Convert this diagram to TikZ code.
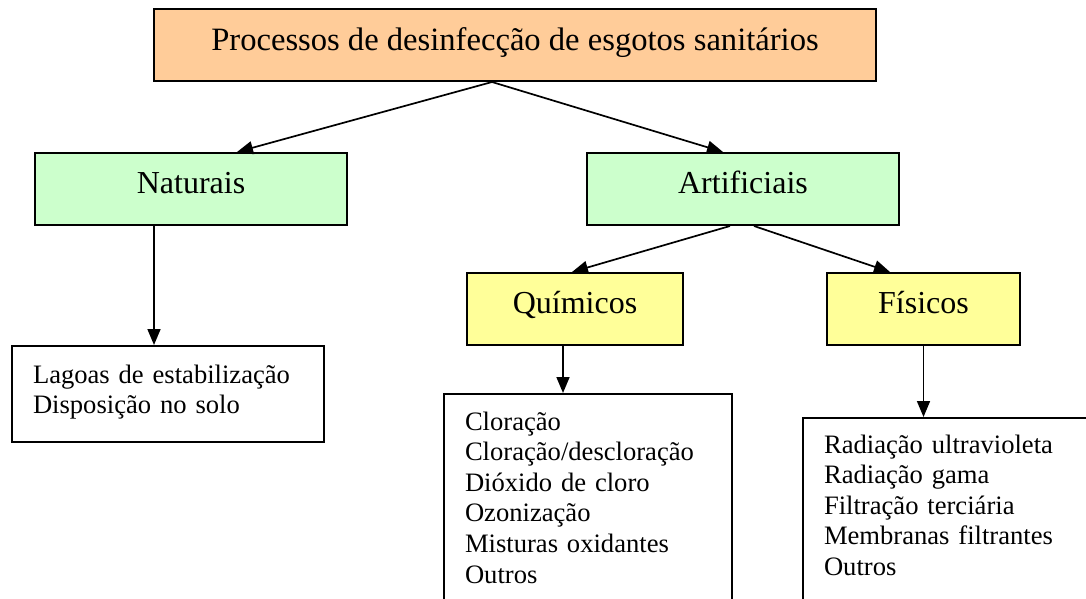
\documentclass[tikz,border=0pt]{standalone}
\usepackage{fontspec}
\setmainfont{Liberation Serif}
\usetikzlibrary{arrows.meta}
\definecolor{headfill}{HTML}{FFCC99}
\definecolor{groupfill}{HTML}{CCFFCC}
\definecolor{kindfill}{HTML}{FFFF99}

\begin{document}
\begin{tikzpicture}[x=1pt,y=-1pt,>={Triangle[length=16pt,width=13pt]},
    box/.style={draw,rectangle,line width=2pt,inner sep=0pt},
    head/.style={box,fill=headfill,minimum width=722pt,minimum height=72pt,
        font=\fontsize{32.6pt}{38pt}\selectfont,text height=24pt,text depth=14pt},
    group/.style={box,fill=groupfill,minimum width=312pt,minimum height=72pt,
        font=\fontsize{32pt}{38pt}\selectfont,text height=22pt,text depth=14pt},
    kind/.style={group,fill=kindfill},
    list/.style={box,anchor=north west,align=left,inner xsep=21pt,text height=18pt,
        font=\fontsize{26.6pt}{30.6pt}\selectfont},
    link/.style={->,line width=1.7pt}]
    \path[use as bounding box,fill=white] (0,0) rectangle (1086,598);

    \node[head]                      (proc) at (515,45)    {Processos de desinfecção de esgotos sanitários};
    \node[group]                     (nat)  at (191,189)   {Naturais};
    \node[group]                     (art)  at (743,189)   {Artificiais};
    \node[kind,minimum width=216pt]  (qui)  at (575,309)   {Químicos};
    \node[kind,minimum width=193pt]  (fis)  at (923.5,309) {Físicos};

    \node[list,text width=270pt,inner ysep=19pt,text depth=40pt] (lag) at (11,345)
        {Lagoas de estabilização\\Disposição no solo};
    \node[list,text width=246pt,inner ysep=18pt,text depth=180pt] (clo) at (443,393)
        {Cloração\\Cloração/descloração\\Dióxido de cloro\\Ozonização\\Misturas oxidantes\\Outros};
    \node[list,text width=258pt,inner ysep=17pt,text depth=160pt] (rad) at (802,417)
        {Radiação ultravioleta\\Radiação gama\\Filtração terciária\\Membranas filtrantes\\Outros};

    \path[link]
    ([xshift=-23pt]proc.south) edge ([xshift=46pt]nat.north)
    ([xshift=-23pt]proc.south) edge ([xshift=-20pt]art.north)
    ([xshift=-13pt]art.south)  edge ([xshift=-3pt]qui.north)
    ([xshift=11pt]art.south)   edge ([xshift=-33.5pt]fis.north)
    ([xshift=-37pt]nat.south)  edge ([xshift=-37pt]nat.south |- lag.north)
    ([xshift=-12pt]qui.south)  edge ([xshift=-12pt]qui.south |- clo.north)
    (fis.south)                edge (fis.south |- rad.north)
    ;
\end{tikzpicture}
\end{document}
